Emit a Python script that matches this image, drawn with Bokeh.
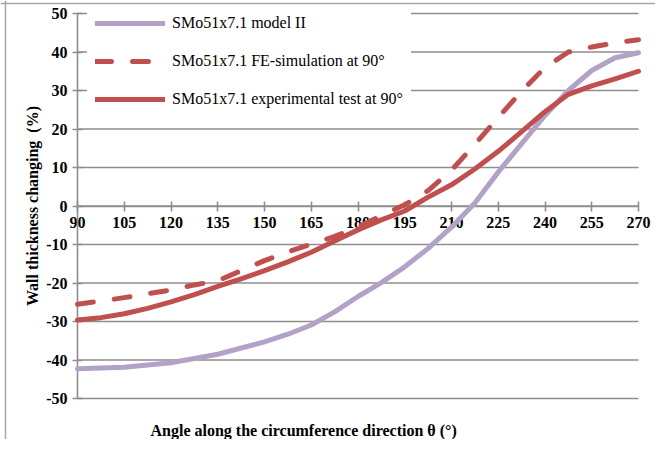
from bokeh.plotting import figure
from bokeh.models import (Range1d, FixedTicker, Legend, LegendItem, Label, Span,
                          CustomJSTickFormatter)
from bokeh.embed import file_html
from bokeh.resources import INLINE

# ---- data ----
angles_model = [90, 105, 120, 135, 150, 157.5, 165, 172.5, 180, 187.5, 195, 202.5,
                210, 217.5, 225, 232.5, 240, 247.5, 255, 262.5, 270]
model_ii = [-42.3, -41.9, -40.7, -38.5, -35.3, -33.3, -30.9, -27.5, -23.5, -19.9, -15.8, -11.0,
            -5.5, 0.8, 8.8, 16.2, 23.5, 30.0, 35.2, 38.5, 39.8]

angles_fe = [90, 97.5, 105, 112.5, 120, 127.5, 135, 142.5, 150, 157.5, 165, 172.5, 180,
             187.5, 195, 202.5, 210, 217.5, 225, 232.5, 240, 247.5, 255, 262.5, 270]
fe_sim = [-25.5, -24.7, -23.8, -22.8, -21.8, -20.5, -19.4, -16.8, -14.2, -11.9, -9.9, -7.9, -5.5,
          -2.5, 0.3, 4.0, 9.3, 16.0, 23.0, 29.8, 36.0, 40.0, 41.3, 42.4, 43.2]

angles_exp = [90, 97.5, 105, 112.5, 120, 127.5, 135, 142.5, 150, 157.5, 165, 172.5, 180,
              187.5, 195, 202.5, 210, 217.5, 225, 232.5, 240, 247.5, 255, 262.5, 270]
exp_test = [-29.6, -29.0, -28.0, -26.6, -24.9, -23.0, -20.9, -18.9, -16.8, -14.5, -12.0, -9.1, -6.2,
            -3.6, -1.3, 2.3, 5.5, 9.6, 14.2, 19.3, 24.5, 29.0, 31.2, 33.0, 35.0]

x_ticks = [90, 105, 120, 135, 150, 165, 180, 195, 210, 225, 240, 255, 270]
y_ticks = [-50, -40, -30, -20, -10, 0, 10, 20, 30, 40, 50]

series_labels = ["SMo51x7.1 model II",
                 "SMo51x7.1 FE-simulation at 90°",
                 "SMo51x7.1 experimental test at 90°"]
x_title = "Angle along the circumference direction θ (°)"
y_title = "Wall thickness changing\u00a0 (%)"

PURPLE = "#B3A2C7"
RED = "#C0504D"
GRID = "#8e8e8e"
BORDER = "#a6a6a6"
FONT = "Liberation Serif"

# ---- layout (pixels) ----
W, H = 655, 439
PX_LEFT, PX_RIGHT, PX_TOP, PX_BOTTOM = 77, 638, 13, 398   # where the axes' extremes sit
x_lo, x_hi = x_ticks[0], x_ticks[-1]
y_lo, y_hi = y_ticks[0], y_ticks[-1]
sx = (PX_RIGHT - PX_LEFT) / (x_hi - x_lo)
sy = (PX_BOTTOM - PX_TOP) / (y_hi - y_lo)
x_range = Range1d(x_lo - PX_LEFT / sx, x_hi + (W - PX_RIGHT) / sx)
y_range = Range1d(y_lo - (H - PX_BOTTOM) / sy, y_hi + PX_TOP / sy)

p = figure(width=W, height=H, output_backend="svg", toolbar_location=None,
           x_range=x_range, y_range=y_range,
           min_border_left=0, min_border_right=0, min_border_top=0, min_border_bottom=0)
p.outline_line_color = None
p.background_fill_color = "white"
p.border_fill_color = "white"
p.xgrid.visible = False
p.ygrid.visible = False

# horizontal gridlines spanning the angle range
p.segment(x0=[x_lo] * len(y_ticks), x1=[x_hi] * len(y_ticks), y0=y_ticks, y1=y_ticks,
          line_color=GRID, line_width=1.6)

xa = p.xaxis[0]
xa.fixed_location = 0
xa.bounds = (x_lo, x_hi)
xa.ticker = FixedTicker(ticks=x_ticks)
ya = p.yaxis[0]
ya.fixed_location = x_lo
ya.bounds = (y_lo, y_hi)
ya.ticker = FixedTicker(ticks=y_ticks)
for ax in (xa, ya):
    ax.formatter = CustomJSTickFormatter(code="return tick.toString()")
    ax.axis_line_color = GRID
    ax.axis_line_width = 1.6
    ax.major_tick_line_color = GRID
    ax.major_tick_line_width = 1.6
    ax.major_tick_in = 5
    ax.major_tick_out = 5
    ax.minor_tick_line_color = None
    ax.major_label_text_font = FONT
    ax.major_label_text_font_style = "bold"
    ax.major_label_text_font_size = "16px"
    ax.major_label_text_color = "black"
xa.major_label_standoff = 6
ya.major_label_standoff = 5
ya.axis_label = y_title
ya.axis_label_text_font = FONT
ya.axis_label_text_font_style = "bold"
ya.axis_label_text_font_size = "16px"
ya.axis_label_text_color = "black"
ya.axis_label_standoff = 2

r_model = p.line(angles_model, model_ii, line_color=PURPLE, line_width=5, line_cap="round",
                 line_join="round", level="overlay")
r_fe = p.line(angles_fe, fe_sim, line_color=RED, line_width=5, line_dash="16 21",
              line_cap="round", line_join="round", level="overlay")
r_exp = p.line(angles_exp, exp_test, line_color=RED, line_width=5, line_cap="round",
               line_join="round", level="overlay")

legend = Legend(items=[LegendItem(label=series_labels[0], renderers=[r_model]),
                       LegendItem(label=series_labels[1], renderers=[r_fe]),
                       LegendItem(label=series_labels[2], renderers=[r_exp])],
                location=(87, 322), margin=0, padding=8, spacing=18,
                glyph_width=70, glyph_height=20, label_height=20, label_standoff=7,
                label_text_font=FONT, label_text_font_size="16px", label_text_color="black",
                border_line_alpha=0, background_fill_color="white", background_fill_alpha=1.0)
p.add_layout(legend)

p.add_layout(Label(x=150, y=9, x_units="screen", y_units="screen", text=x_title,
                   text_align="left", text_baseline="middle", text_font=FONT,
                   text_font_style="bold", text_font_size="16px", text_color="black"))

# chart-area border (left and top edges)
p.add_layout(Span(location=5, location_units="screen", dimension="height",
                  line_color=BORDER, line_width=1.5, level="overlay"))
p.add_layout(Span(location=H - 3, location_units="screen", dimension="width",
                  line_color=BORDER, line_width=1.5, level="overlay"))

open("out.html", "w").write(file_html(p, INLINE))
